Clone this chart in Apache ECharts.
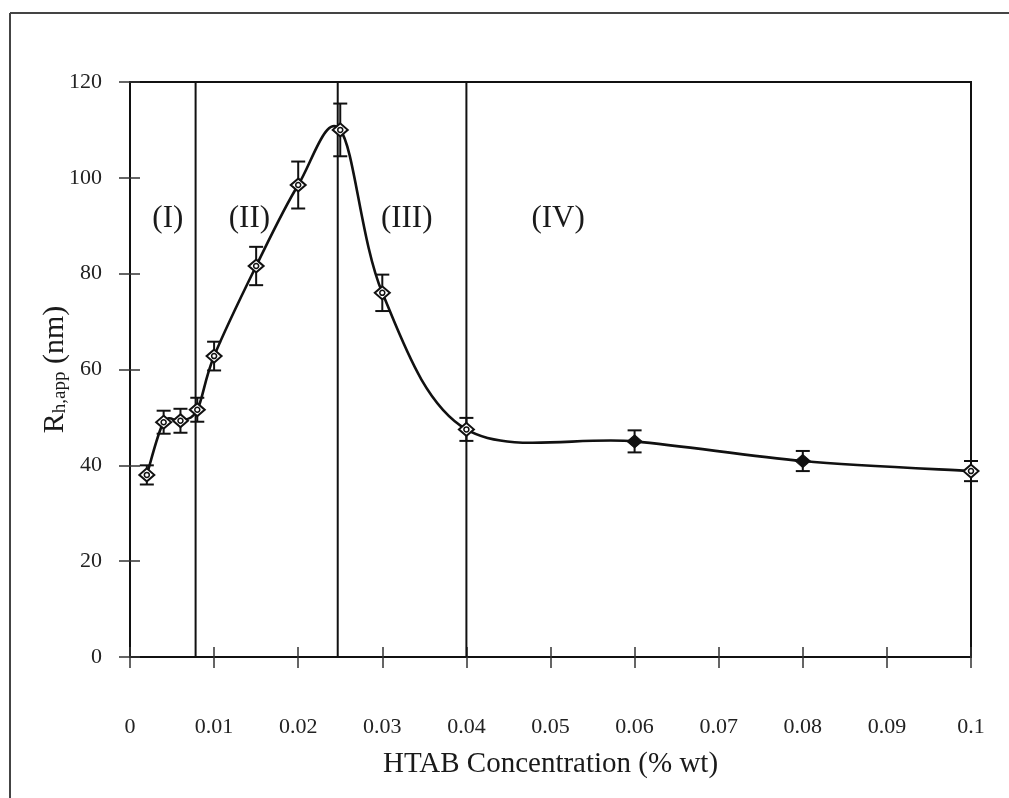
<!DOCTYPE html>
<html>
<head>
<meta charset="utf-8">
<script src="https://cdn.jsdelivr.net/npm/echarts@6/dist/echarts.min.js"></script>
<style>
  html, body { margin: 0; padding: 0; background: #ffffff; }
  #chart { width: 1009px; height: 798px; }
</style>
</head>
<body>
<div id="chart"></div>
<script>
// HTAB concentration (% wt) and apparent hydrodynamic radius (nm)
const concentration = [0.002, 0.004, 0.006, 0.008, 0.010, 0.015, 0.020, 0.025, 0.030, 0.040, 0.060, 0.080, 0.100];
const radius        = [38.0, 49.0, 49.3, 51.6, 62.8, 81.6, 98.5, 110.0, 76.0, 47.5, 45.0, 40.9, 38.8];
const radiusError   = [2.0, 2.4, 2.5, 2.5, 3.0, 4.0, 4.9, 5.5, 3.8, 2.4, 2.3, 2.1, 2.1];

// points drawn as solid diamonds
const solidMarkers = [0.060, 0.080];

// region boundaries and region names
const boundaries   = [0.0078, 0.0247, 0.040];
const regionNames  = ['(I)', '(II)', '(III)', '(IV)'];
const regionX      = [0.0045, 0.0142, 0.0329, 0.0509];
const regionY      = [91.5, 91.5, 91.5, 91.5];

// axis ticks
const xTicks = [0, 0.01, 0.02, 0.03, 0.04, 0.05, 0.06, 0.07, 0.08, 0.09, 0.1];
const yTicks = [0, 20, 40, 60, 80, 100, 120];

const SERIF = "'Liberation Serif', 'Times New Roman', serif";
const INK = '#111';

const points = concentration.map((c, i) => [c, radius[i]]);
const errorData = concentration.map((c, i) => [c, radius[i], radiusError[i]]);
const hollowPts = points.filter(p => solidMarkers.indexOf(p[0]) < 0);
const solidPts = points.filter(p => solidMarkers.indexOf(p[0]) >= 0);
const regionData = regionNames.map((n, i) => [regionX[i], regionY[i], n]);

const chart = echarts.init(document.getElementById('chart'), null, { renderer: 'canvas' });

const xBase = {
  type: 'value', min: xTicks[0], max: xTicks[xTicks.length - 1], interval: 0.01,
  splitLine: { show: false }
};
const yBase = {
  type: 'value', min: yTicks[0], max: yTicks[yTicks.length - 1], interval: 20,
  splitLine: { show: false }
};

// Smooth curve through the measured points: cubic Bezier segments whose
// control points follow the neighbouring points (Catmull-Rom style, 1/6 tangent).
function smoothPath(api) {
  const px = points.map(p => api.coord(p));
  const n = px.length;
  let d = 'M' + px[0][0] + ' ' + px[0][1];
  for (let i = 0; i < n - 1; i++) {
    const p0 = px[Math.max(i - 1, 0)], p1 = px[i], p2 = px[i + 1], p3 = px[Math.min(i + 2, n - 1)];
    const c1x = p1[0] + (p2[0] - p0[0]) / 6, c1y = p1[1] + (p2[1] - p0[1]) / 6;
    const c2x = p2[0] - (p3[0] - p1[0]) / 6, c2y = p2[1] - (p3[1] - p1[1]) / 6;
    d += ' C' + c1x + ' ' + c1y + ' ' + c2x + ' ' + c2y + ' ' + p2[0] + ' ' + p2[1];
  }
  return d;
}

chart.setOption({
  animation: false,
  backgroundColor: '#ffffff',
  grid: {
    left: 130, right: 38, top: 82, bottom: 141,
    show: true, borderColor: INK, borderWidth: 2, backgroundColor: 'transparent'
  },
  graphic: [
    { type: 'line', shape: { x1: 10, y1: 13, x2: 1009, y2: 13 }, style: { stroke: '#444', lineWidth: 2 } },
    { type: 'line', shape: { x1: 10, y1: 13, x2: 10, y2: 798 }, style: { stroke: '#444', lineWidth: 2 } }
  ],
  xAxis: [
    Object.assign({}, xBase, {
      position: 'bottom',
      name: 'HTAB Concentration (% wt)',
      nameLocation: 'middle',
      nameGap: 93,
      nameTextStyle: { fontFamily: SERIF, fontSize: 29, color: '#1a1a1a' },
      axisLine: { show: true, onZero: false, lineStyle: { color: INK, width: 2 } },
      axisTick: { show: true, length: 11, lineStyle: { color: '#333', width: 1.5 } },
      axisLabel: {
        margin: 59, fontFamily: SERIF, fontSize: 22, color: '#222',
        formatter: v => String(Math.round(v * 100) / 100)
      }
    }),
    Object.assign({}, xBase, {
      position: 'bottom',
      axisLine: { show: false },
      axisTick: { show: true, inside: true, length: 10, lineStyle: { color: '#333', width: 1.5 } },
      axisLabel: { show: false }
    })
  ],
  yAxis: [
    Object.assign({}, yBase, {
      position: 'left',
      name: 'R{sub|h,app} (nm)',
      nameLocation: 'middle',
      nameGap: 60,
      nameMoveOverlap: false,
      nameRotate: 90,
      nameTextStyle: {
        fontFamily: SERIF, fontSize: 30, color: '#1a1a1a',
        rich: {
          sub: { fontFamily: SERIF, fontSize: 19, color: '#1a1a1a', verticalAlign: 'bottom', padding: [11, 0, 0, 0] }
        }
      },
      axisLine: { show: true, onZero: false, lineStyle: { color: INK, width: 2 } },
      axisTick: { show: true, length: 11, lineStyle: { color: '#333', width: 1.5 } },
      axisLabel: { margin: 28, fontFamily: SERIF, fontSize: 22, color: '#222' }
    }),
    Object.assign({}, yBase, {
      position: 'left',
      axisLine: { show: false },
      axisTick: { show: true, inside: true, length: 10, lineStyle: { color: '#333', width: 1.5 } },
      axisLabel: { show: false }
    })
  ],
  series: [
    {
      // region boundary lines
      type: 'custom', data: boundaries.map(b => [b]), silent: true, z: 2,
      renderItem: function (params, api) {
        const b = api.value(0);
        const lo = api.coord([b, yTicks[0]]);
        const hi = api.coord([b, yTicks[yTicks.length - 1]]);
        return {
          type: 'line',
          shape: { x1: lo[0], y1: lo[1], x2: hi[0], y2: hi[1] },
          style: { stroke: INK, lineWidth: 2 }
        };
      }
    },
    {
      // smoothed trend curve through the measurements
      type: 'custom', data: [[points[0][0], points[0][1]]], silent: true, z: 3,
      renderItem: function (params, api) {
        return {
          type: 'path',
          shape: { pathData: smoothPath(api) },
          style: { stroke: INK, lineWidth: 2.6, fill: null, lineJoin: 'round' }
        };
      }
    },
    {
      // error bars
      type: 'custom', data: errorData, silent: true, z: 4,
      renderItem: function (params, api) {
        const x = api.value(0), y = api.value(1), e = api.value(2);
        const top = api.coord([x, y + e]);
        const bot = api.coord([x, y - e]);
        const half = 7;
        const style = { stroke: INK, lineWidth: 2 };
        return {
          type: 'group',
          children: [
            { type: 'line', shape: { x1: top[0], y1: top[1], x2: bot[0], y2: bot[1] }, style: style },
            { type: 'line', shape: { x1: top[0] - half, y1: top[1], x2: top[0] + half, y2: top[1] }, style: style },
            { type: 'line', shape: { x1: bot[0] - half, y1: bot[1], x2: bot[0] + half, y2: bot[1] }, style: style }
          ]
        };
      }
    },
    {
      // open diamond markers
      type: 'scatter', data: hollowPts, symbol: 'diamond', symbolSize: [15, 13], silent: true, z: 5,
      itemStyle: { color: '#ffffff', borderColor: INK, borderWidth: 2, opacity: 1 }
    },
    {
      // small ring inside the open diamonds
      type: 'scatter', data: hollowPts, symbol: 'circle', symbolSize: 5, silent: true, z: 6,
      itemStyle: { color: '#ffffff', borderColor: INK, borderWidth: 1.5, opacity: 1 }
    },
    {
      // solid diamond markers
      type: 'scatter', data: solidPts, symbol: 'diamond', symbolSize: [15, 13], silent: true, z: 5,
      itemStyle: { color: INK, borderColor: INK, borderWidth: 1, opacity: 1 }
    },
    {
      // region names
      type: 'custom', data: regionData, silent: true, z: 7,
      renderItem: function (params, api) {
        const p = api.coord([api.value(0), api.value(1)]);
        return {
          type: 'text',
          x: p[0], y: p[1],
          style: {
            text: regionNames[params.dataIndex],
            fontFamily: SERIF, fontSize: 31, fill: '#1a1a1a',
            align: 'center', verticalAlign: 'middle'
          }
        };
      }
    }
  ]
});
</script>
</body>
</html>
